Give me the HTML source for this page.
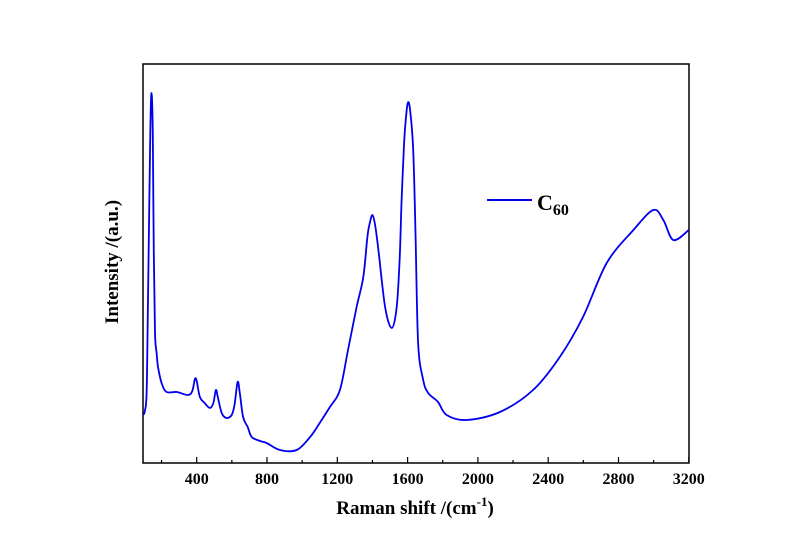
<!DOCTYPE html>
<html><head><meta charset="utf-8"><style>
body{margin:0;background:#fff}
svg{display:block;font-family:"Liberation Serif",serif;font-weight:bold}
</style></head><body>
<svg id="chart" width="800" height="555">
<rect x="143" y="64" width="546" height="399" fill="none" stroke="#000" stroke-width="1.5"/>
<g id="xticks"></g>
<path id="series" fill="none" stroke="#0000ee" stroke-width="1.8" stroke-linejoin="round"/>
<g>
<line x1="487" y1="200" x2="532" y2="200" stroke="#0000ee" stroke-width="2"/>
<text x="537" y="210" font-size="22">C<tspan font-size="16" dy="5">60</tspan></text>
</g>
<text x="415" y="514" font-size="19" text-anchor="middle">Raman shift /(cm<tspan font-size="13" dy="-8">-1</tspan><tspan dy="8">)</tspan></text>
<text transform="translate(118,262) rotate(-90)" font-size="19" text-anchor="middle">Intensity /(a.u.)</text>
</svg>
<script>
const xs=[95,105,115,122,128,136,143,150,156,163,172,180,200,229,286,350,375,390,400,418,445,475,495,509,520,542,570,599,615,633,645,664,690,713,760,798,874,969,1045,1100,1158,1215,1261,1310,1348,1371,1385,1400,1415,1434,1472,1510,1538,1555,1566,1580,1593,1604,1616,1632,1645,1660,1689,1717,1773,1822,1936,2125,2314,2466,2598,2733,2885,2998,3055,3112,3200];
const ys=[48,52,70,150,230,330,370,330,210,130,110,96,80,71,71,68,72,84,82,66,60,55,60,73,66,50,45,48,58,81,70,46,36,26,22,20,13,13,26,40,56,73,113,156,186,226,240,248,238,213,156,135,156,205,263,320,350,361,350,313,230,120,83,70,61,48,43,51,73,106,146,200,233,253,243,223,233];
const xTickLabels=[400,800,1200,1600,2000,2400,2800,3200];
const X=v=>126.4+(v)*0.17575;
const Y=v=>463-v;
const P=xs.map((x,i)=>[X(x),Y(ys[i])]);
let d="M"+P[0][0].toFixed(1)+","+P[0][1].toFixed(1);
for(let i=0;i<P.length-1;i++){
 const p0=P[Math.max(0,i-1)],p1=P[i],p2=P[i+1],p3=P[Math.min(P.length-1,i+2)];
 const c1=[p1[0]+(p2[0]-p0[0])/6,p1[1]+(p2[1]-p0[1])/6];
 const c2=[p2[0]-(p3[0]-p1[0])/6,p2[1]-(p3[1]-p1[1])/6];
 d+="C"+c1[0].toFixed(1)+","+c1[1].toFixed(1)+" "+c2[0].toFixed(1)+","+c2[1].toFixed(1)+" "+p2[0].toFixed(1)+","+p2[1].toFixed(1);
}
document.getElementById('series').setAttribute('d',d);
const g=document.getElementById('xticks');
const NS="http://www.w3.org/2000/svg";
for(let v=200;v<=3200;v+=200){
 const t=document.createElementNS(NS,'line');
 const major=v%400===0;
 t.setAttribute('x1',X(v));t.setAttribute('x2',X(v));
 t.setAttribute('y1',463);t.setAttribute('y2',463-(major?6:3));
 t.setAttribute('stroke','#000');t.setAttribute('stroke-width','1.2');
 
 
 g.appendChild(t);
}
xTickLabels.forEach(v=>{
 const l=document.createElementNS(NS,'text');
 l.setAttribute('x',X(v));l.setAttribute('y',484);
 l.setAttribute('text-anchor','middle');l.setAttribute('font-size','16');
 l.textContent=v;
 
 
 g.appendChild(l);
});
</script>
</body></html>
